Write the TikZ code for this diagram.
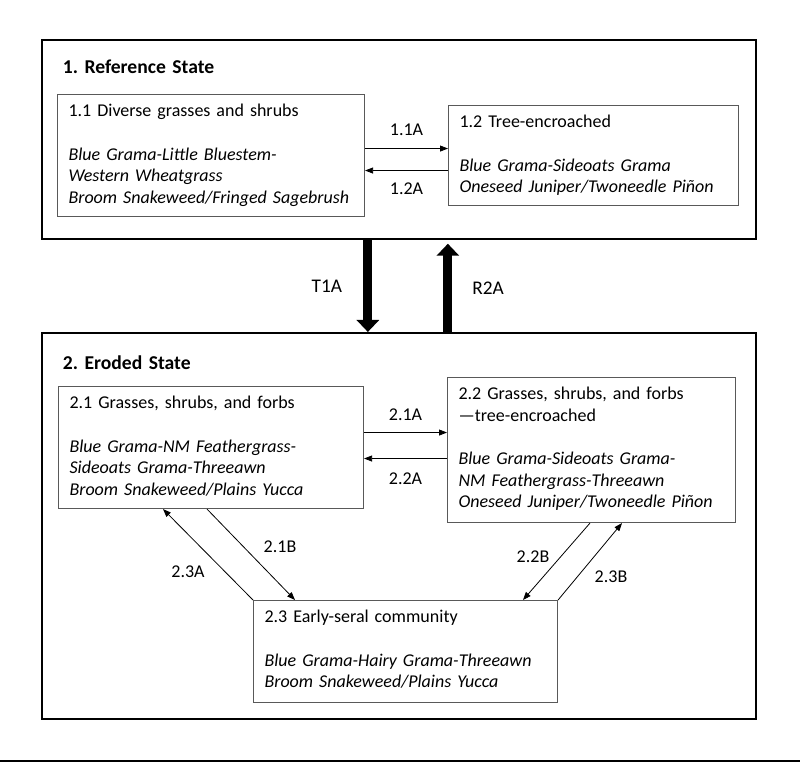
\documentclass[tikz,border=0pt]{standalone}
\usepackage{fontspec}
\setmainfont{Carlito}
\usetikzlibrary{arrows.meta}
\usetikzlibrary{calc}
\frenchspacing

\begin{document}
\begin{tikzpicture}[x=0.75pt,y=0.75pt,yscale=-1,xscale=1,
    every node/.style={font=\fontsize{13.5}{16.2}\selectfont},
    statebox/.style={draw, line width=1.3pt, anchor=north west, inner xsep=15.75pt, inner ysep=0pt, align=left, font=\fontsize{14.7}{16.2}\selectfont\bfseries},
    phasebox/.style={draw=black!65, line width=0.8pt, anchor=north west, inner xsep=8.25pt, inner ysep=0pt, align=left, text height=16.5pt},
    tag/.style={inner sep=0pt},
    shiftarrow/.style={-{Triangle[length=6pt,width=4.5pt]}, line width=0.6pt},
    bigarrow/.style={-{Triangle[length=9pt,width=16.5pt]}, line width=6.75pt}]
      \useasboundingbox (0,0) rectangle (800,762);
      % states
      \node[statebox, text width=504pt, text height=25.5pt, text depth=123.75pt] (b1) at (41,39) {1. Reference State};
      \node[statebox, text width=504pt, text height=27.75pt, text depth=261.75pt] (b2) at (41,332) {2. Eroded State};
      % community phases
      \node[phasebox, text width=213.75pt, text depth=75pt] (b11) at (57,94)
        {1.1 Diverse grasses and shrubs\\[16.5pt]\textit{Blue Grama-Little Bluestem-}\\\textit{Western Wheatgrass}\\\textit{Broom Snakeweed/Fringed Sagebrush}};
      \node[phasebox, text width=201pt, text depth=58.5pt] (b12) at (448,105)
        {1.2 Tree-encroached\\[16.5pt]\textit{Blue Grama-Sideoats Grama}\\\textit{Oneseed Juniper/Twoneedle Piñon}};
      \node[phasebox, text width=212.25pt, text depth=75pt] (b21) at (58,386)
        {2.1 Grasses, shrubs, and forbs\\[16.5pt]\textit{Blue Grama-NM Feathergrass-}\\\textit{Sideoats Grama-Threeawn}\\\textit{Broom Snakeweed/Plains Yucca}};
      \node[phasebox, text width=199.5pt, text depth=92.25pt] (b22) at (447,377)
        {2.2 Grasses, shrubs, and forbs\\—tree-encroached\\[16.5pt]\textit{Blue Grama-Sideoats Grama-}\\\textit{NM Feathergrass-Threeawn}\\\textit{Oneseed Juniper/Twoneedle Piñon}};
      \node[phasebox, text width=211.5pt, text depth=60pt] (b23) at (253,600)
        {2.3 Early-seral community\\[16.5pt]\textit{Blue Grama-Hairy Grama-Threeawn}\\\textit{Broom Snakeweed/Plains Yucca}};
      % pathways inside the states
      \draw[shiftarrow] ($(b11.east)+(0,-7)$) -- ($(b11.east -| b12.west)+(0,-7)$) node[tag, midway, above=9pt] (l11A) {1.1A};
      \draw[shiftarrow] ($(b12.west)+(0,15)$) -- ($(b12.west -| b11.east)+(0,15)$) node[tag, midway, below=9pt] (l12A) {1.2A};
      \draw[shiftarrow] ($(b21.east)+(0,-15)$) -- ($(b21.east -| b22.west)+(0,-15)$) node[tag, midway, above=8.4pt] (l21A) {2.1A};
      \draw[shiftarrow] ($(b22.west)+(0,8.5)$) -- ($(b22.west -| b21.east)+(0,8.5)$) node[tag, midway, below=10.6pt] (l22A) {2.2A};
      \draw[shiftarrow] (b23.north west) -- ($(b21.south west)+(105,0)$);
      \draw[shiftarrow] ($(b21.south west)+(149,0)$) -- ($(b23.north west)+(42,0)$);
      \draw[shiftarrow] ($(b22.south west)+(143,0)$) -- ($(b23.north west)+(270,0)$);
      \draw[shiftarrow] (b23.north east) -- ($(b22.south west)+(175,0)$);
      \node[tag] (l21B) at (280,547) {2.1B};
      \node[tag] (l23A) at (188,572) {2.3A};
      \node[tag] (l22B) at (533,557) {2.2B};
      \node[tag] (l23B) at (611,577) {2.3B};
      % transitions
      \draw[bigarrow] ($(b1.south)+(-31,0)$) -- ($(b2.north)+(-31,0)$) node[tag, midway, left=16pt, font=\fontsize{14.5}{16}\selectfont] (lT1A) {T1A};
      \draw[bigarrow] ($(b2.north)+(49,0)$) -- ($(b1.south)+(49,4)$) node[tag, midway, right=15pt, font=\fontsize{14.5}{16}\selectfont] (lR2A) {R2A};
      \draw[line width=0.9pt] (0,761) -- (800,761);
    \end{tikzpicture}
\end{document}
